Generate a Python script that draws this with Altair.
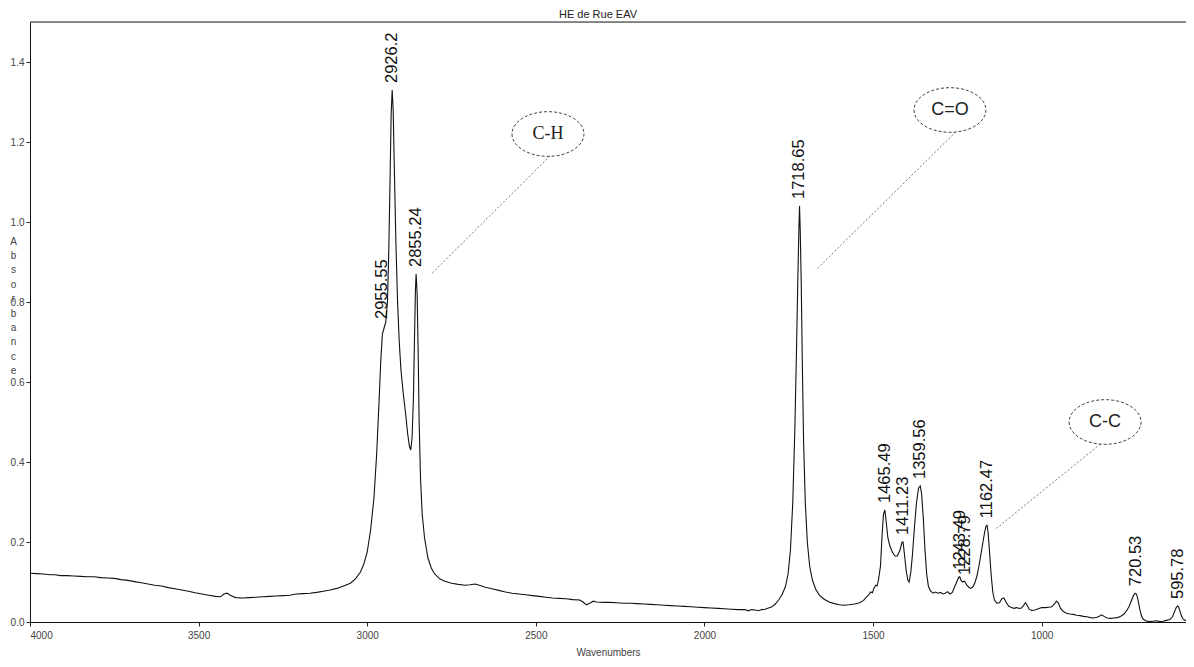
import altair as alt
import pandas as pd

# ---------------- data ----------------
wavenumber = [
    4000, 3980, 3960, 3940, 3925, 3910, 3890, 3870, 3850, 3830, 3810, 3790, 3770, 3750,
    3730, 3710, 3690, 3670, 3650, 3630, 3610, 3590, 3570, 3550, 3530, 3510, 3490, 3470,
    3450, 3435, 3425, 3415, 3405, 3390, 3370, 3350, 3330, 3310, 3290, 3270, 3250, 3230,
    3210, 3190, 3170, 3150, 3130, 3110, 3090, 3070, 3050, 3035, 3020, 3010, 3000, 2990,
    2980, 2972, 2965, 2960, 2955, 2950, 2945, 2940, 2936, 2932, 2929, 2926, 2923, 2920,
    2915, 2910, 2905, 2900, 2893, 2886, 2880, 2875, 2871, 2867, 2863, 2860, 2857, 2855,
    2852, 2849, 2846, 2842, 2837, 2830, 2820, 2810, 2800, 2785, 2770, 2750, 2730, 2710,
    2695, 2680, 2665, 2650, 2630, 2610, 2590, 2570, 2550, 2530, 2510, 2490, 2470, 2450,
    2430, 2410, 2390, 2370, 2360, 2350, 2340, 2330, 2320, 2300, 2280, 2260, 2240, 2220,
    2200, 2180, 2160, 2140, 2120, 2100, 2080, 2060, 2040, 2020, 2000, 1980, 1960, 1940,
    1920, 1900, 1880, 1870, 1860, 1850, 1840, 1830, 1820, 1810, 1800, 1790, 1780, 1770,
    1760, 1752, 1745, 1738, 1732, 1727, 1723, 1720, 1718, 1716, 1713, 1710, 1706, 1701,
    1695, 1688, 1680, 1670, 1660, 1645, 1630, 1615, 1600, 1585, 1570, 1555, 1540, 1528,
    1520, 1513, 1507, 1502, 1497, 1492, 1488, 1484, 1478, 1473, 1469, 1465, 1461, 1456,
    1450, 1443, 1435, 1428, 1420, 1414, 1411, 1407, 1402, 1397, 1393, 1388, 1383, 1377,
    1371, 1365, 1360, 1356, 1351, 1346, 1341, 1336, 1330, 1322, 1315, 1308, 1300, 1293,
    1286, 1279, 1272, 1265, 1258, 1252, 1246, 1243, 1239, 1234, 1230, 1227, 1222, 1216,
    1210, 1204, 1198, 1192, 1186, 1180, 1174, 1169, 1165, 1162, 1159, 1155, 1150, 1145,
    1140, 1133, 1125, 1118, 1112, 1106, 1098, 1090, 1082, 1074, 1067, 1060, 1054, 1048,
    1043, 1037, 1030, 1020, 1010, 1000, 990, 980, 970, 962, 956, 951, 944, 936,
    926, 916, 906, 896, 886, 876, 866, 856, 846, 836, 828, 822, 815, 806,
    796, 786, 776, 766, 756, 748, 740, 733, 728, 723, 719, 715, 710, 705,
    700, 692, 682, 670, 660, 650, 640, 630, 620, 612, 606, 601, 597, 594,
    590, 585, 580, 575, 572,
]
absorbance = [
    0.122, 0.121, 0.120, 0.118, 0.118, 0.116, 0.116, 0.115, 0.114, 0.113, 0.113, 0.111, 0.110, 0.109,
    0.106, 0.104, 0.101, 0.098, 0.095, 0.092, 0.090, 0.086, 0.083, 0.080, 0.077, 0.073, 0.070, 0.067,
    0.064, 0.063, 0.070, 0.072, 0.066, 0.061, 0.060, 0.061, 0.062, 0.063, 0.064, 0.065, 0.066, 0.067,
    0.070, 0.071, 0.072, 0.074, 0.077, 0.080, 0.084, 0.090, 0.097, 0.108, 0.125, 0.145, 0.175, 0.230,
    0.310, 0.420, 0.550, 0.650, 0.720, 0.735, 0.750, 0.800, 0.930, 1.120, 1.270, 1.330, 1.280, 1.150,
    0.950, 0.800, 0.700, 0.630, 0.570, 0.520, 0.470, 0.440, 0.430, 0.460, 0.560, 0.700, 0.830, 0.870,
    0.820, 0.680, 0.500, 0.360, 0.270, 0.210, 0.160, 0.135, 0.120, 0.108, 0.102, 0.097, 0.094, 0.092,
    0.093, 0.095, 0.091, 0.087, 0.083, 0.079, 0.075, 0.072, 0.070, 0.068, 0.066, 0.064, 0.062, 0.060,
    0.059, 0.058, 0.056, 0.055, 0.050, 0.043, 0.047, 0.052, 0.050, 0.049, 0.049, 0.048, 0.047, 0.047,
    0.046, 0.045, 0.044, 0.043, 0.042, 0.041, 0.040, 0.039, 0.038, 0.037, 0.036, 0.035, 0.034, 0.033,
    0.032, 0.031, 0.031, 0.028, 0.031, 0.030, 0.028, 0.031, 0.032, 0.035, 0.038, 0.045, 0.055, 0.068,
    0.088, 0.120, 0.180, 0.300, 0.480, 0.680, 0.860, 0.980, 1.040, 0.980, 0.850, 0.660, 0.450, 0.300,
    0.200, 0.140, 0.105, 0.082, 0.068, 0.057, 0.050, 0.046, 0.043, 0.042, 0.043, 0.045, 0.048, 0.054,
    0.062, 0.068, 0.075, 0.073, 0.085, 0.092, 0.090, 0.105, 0.140, 0.220, 0.270, 0.280, 0.250, 0.210,
    0.190, 0.175, 0.165, 0.165, 0.180, 0.200, 0.200, 0.170, 0.130, 0.105, 0.100, 0.125, 0.170, 0.240,
    0.300, 0.335, 0.340, 0.320, 0.260, 0.180, 0.120, 0.090, 0.078, 0.072, 0.075, 0.072, 0.074, 0.070,
    0.072, 0.076, 0.070, 0.074, 0.088, 0.100, 0.112, 0.113, 0.104, 0.100, 0.102, 0.100, 0.092, 0.087,
    0.084, 0.088, 0.098, 0.115, 0.140, 0.170, 0.200, 0.225, 0.240, 0.242, 0.225, 0.180, 0.120, 0.075,
    0.055, 0.047, 0.048, 0.058, 0.060, 0.050, 0.040, 0.036, 0.034, 0.036, 0.034, 0.035, 0.041, 0.048,
    0.042, 0.032, 0.029, 0.030, 0.033, 0.036, 0.036, 0.037, 0.038, 0.045, 0.052, 0.048, 0.034, 0.026,
    0.022, 0.020, 0.019, 0.017, 0.016, 0.014, 0.013, 0.011, 0.010, 0.012, 0.015, 0.018, 0.014, 0.010,
    0.009, 0.010, 0.011, 0.014, 0.020, 0.028, 0.040, 0.055, 0.066, 0.072, 0.070, 0.058, 0.036, 0.018,
    0.008, 0.003, 0.001, 0.002, 0.003, 0.001, 0.002, 0.004, 0.006, 0.013, 0.026, 0.036, 0.040, 0.038,
    0.027, 0.014, 0.007, 0.004, 0.004,
]

peak_text = ["2926.2", "2955.55", "2855.24", "1718.65", "1465.49", "1411.23",
             "1359.56", "1243.49", "1228.79", "1162.47", "720.53", "595.78"]
peak_wn = [2926.2, 2955.55, 2855.24, 1718.65, 1465.49, 1411.23,
           1359.56, 1243.49, 1228.79, 1162.47, 720.53, 595.78]
peak_abs = [1.33, 0.74, 0.87, 1.04, 0.28, 0.20, 0.34, 0.113, 0.10, 0.242, 0.072, 0.040]

group_text = ["C-H", "C=O", "C-C"]
group_wn = [2464, 1272, 812]
group_abs = [1.22, 1.28, 0.50]

leader_wn_from = [2458, 1255, 826]
leader_abs_from = [1.165, 1.225, 0.445]
leader_wn_to = [2810, 1670, 1140]
leader_abs_to = [0.87, 0.88, 0.23]

x_ticks = [4000, 3500, 3000, 2500, 2000, 1500, 1000]
y_ticks = [0.0, 0.2, 0.4, 0.6, 0.8, 1.0, 1.2, 1.4]
x_domain = [4000, 572]
y_domain = [0, 1.5]

# ---------------- tables ----------------
spec_df = pd.DataFrame({"wn": wavenumber, "abs": absorbance})
peak_df = pd.DataFrame({"wn": peak_wn, "abs": peak_abs, "label": peak_text})
group_df = pd.DataFrame({"wn": group_wn, "abs": group_abs, "label": group_text})
leader_df = pd.DataFrame({"wn": leader_wn_from, "abs": leader_abs_from,
                          "wn2": leader_wn_to, "abs2": leader_abs_to})
top_df = pd.DataFrame({"wn": [x_domain[0]], "abs": [y_domain[1]]})

SANS = "Liberation Sans"
xs = alt.Scale(domain=x_domain, nice=False, zero=False)
ys = alt.Scale(domain=y_domain, nice=False, zero=False)

x_axis = alt.Axis(
    values=x_ticks, format="d", grid=False, title="Wavenumbers", labelFontSize=10,
    labelFont=SANS, labelColor="#444444", tickSize=4, tickColor="#222222",
    domainColor="#111111", titleFont=SANS, titleFontSize=10,
    titleFontWeight="normal", titleColor="#444444", titleBaseline="top",
    titleY=25, labelPadding=4)
y_axis = alt.Axis(
    values=y_ticks, format=".1f", grid=False,
    title=["A", "b", "s", "o", "r", "b", "a", "n", "c", "e"],
    titleAngle=0, titleX=-17, titleY=214, titleAlign="center",
    titleBaseline="top", titleLineHeight=14.4, titleFont=SANS,
    titleFontSize=10, titleFontWeight="normal", titleColor="#444444",
    labelFontSize=10, labelFont=SANS, labelColor="#444444", tickSize=4,
    tickColor="#222222", domainColor="#111111", labelPadding=2)

X = alt.X("wn:Q", scale=xs, axis=x_axis)
Y = alt.Y("abs:Q", scale=ys, axis=y_axis)

spectrum = alt.Chart(spec_df).mark_line(color="#111111", strokeWidth=1.1).encode(
    x=X, y=Y, order=alt.Order("wn:Q", sort="descending"),
)

top_border = alt.Chart(top_df).mark_rule(color="#222222", strokeWidth=1).encode(
    y=Y
)

peak_labels = alt.Chart(peak_df).mark_text(
    angle=270, align="left", baseline="middle", dx=7, font=SANS, fontSize=16.5,
    color="#111111"
).encode(x=X, y=Y, text="label:N")

leaders = alt.Chart(leader_df).mark_rule(
    color="#777777", strokeWidth=1, strokeDash=[2, 2]
).encode(x=X, x2="wn2:Q", y=Y, y2="abs2:Q")

ELLIPSE = "M -1 0 A 1 0.62 0 1 0 1 0 A 1 0.62 0 1 0 -1 0 Z"
ellipses = alt.Chart(group_df).mark_point(
    shape=ELLIPSE, size=5184, filled=False, color="#444444", strokeWidth=1,
    strokeDash=[3, 2], opacity=1
).encode(x=X, y=Y)

ch_text = alt.Chart(group_df).transform_filter(alt.datum.label == "C-H").mark_text(
    font="Liberation Serif", fontSize=18, color="#222222", baseline="middle"
).encode(x=X, y=Y, text="label:N")

other_text = alt.Chart(group_df).transform_filter(alt.datum.label != "C-H").mark_text(
    font=SANS, fontSize=18, color="#222222", baseline="middle"
).encode(x=X, y=Y, text="label:N")

chart = alt.layer(
    spectrum, top_border, leaders, ellipses, ch_text, other_text, peak_labels
).properties(
    width=1156, height=600,
    padding={"left": 22, "top": 14, "right": 0, "bottom": 37},
    autosize=alt.AutoSizeParams(type="none"),
    title=alt.TitleParams("HE de Rue EAV", font=SANS, fontSize=11,
                          fontWeight="normal", color="#222222", offset=2,
                          anchor="middle", dx=-10),
).configure_view(stroke=None).configure(background="white")

chart.save("out.html", embed_options={"renderer": "svg", "actions": False})
